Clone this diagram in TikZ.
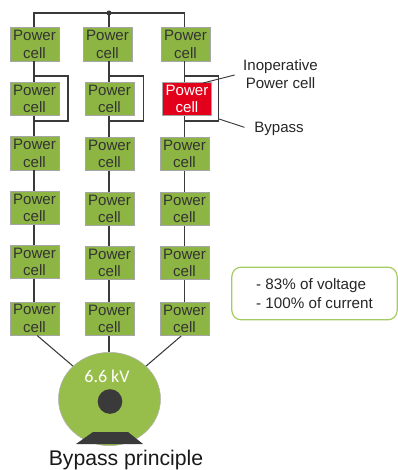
\documentclass[tikz,border=0pt]{standalone}
\usepackage{fontspec}
\setmainfont{Liberation Sans}
\newfontfamily\kvfont{Carlito}
\usepackage{xcolor}
\usetikzlibrary{arrows.meta,positioning,shapes.geometric}
\definecolor{cellgreen}{HTML}{8DB544}
\definecolor{motorgreen}{HTML}{97BE4B}
\definecolor{cellred}{HTML}{E2001A}
\definecolor{wiregray}{HTML}{3A3A3A}
\definecolor{boxgreen}{HTML}{A5CC62}

\begin{document}
\begin{tikzpicture}[
  x=0.75pt, y=-0.75pt,
  cell/.style={rectangle, draw=gray!70, line width=0.5pt, fill=cellgreen, minimum width=36.5pt, minimum height=25pt, inner sep=0pt, align=center, font=\fontsize{11.3}{13.2}\selectfont, text=black!80},
  badcell/.style={cell, fill=cellred, text=white},
  wire/.style={draw=wiregray, line width=0.8pt},
  bypass/.style={draw=wiregray, line width=1.3pt},
  leader/.style={draw=wiregray, line width=0.7pt},
  note/.style={align=center, font=\fontsize{11.3}{13.5}\selectfont, text=black!85}
]
  \useasboundingbox (0,0) rectangle (398,470);

  % motor
  \node[ellipse, draw=gray!60, line width=0.4pt, fill=motorgreen, minimum width=76.5pt, minimum height=70pt, inner sep=0pt] (motor) at (109.5,399) {};
  \node[circle, fill=wiregray, minimum size=18.5pt, inner sep=0pt] (shaft) at (110,401.5) {};
  \fill[wiregray] (76,444) -- (93,432) -- (128,432) -- (143,444) -- cycle;
  \node[text=white, font=\kvfont\fontsize{13.5}{15}\selectfont] (volt) at (107,376) {6.6 kV};

  % feed and wire columns
  \coordinate (topa) at (34,13);
  \coordinate (topb) at (109,13);
  \coordinate (topc) at (184.5,13);

  % bypass loops
  \foreach \col/\xpos/\xout in {a/34/68,b/109/143.5,c/184.5/218.5} {
    \coordinate (\col ul) at (\xpos,76);
    \coordinate (\col ur) at (\xout,76);
    \coordinate (\col lr) at (\xout,121);
    \coordinate (\col ll) at (\xpos,121);
    \draw[bypass] (\col ul) -- (\col ur) -- (\col lr) -- (\col ll);
  }

  % cells, column by column
  \node[cell] (a1) at (34.5,44.5) {Power\\cell};
  \node[cell] (a2) at (34.5,99) {Power\\cell};
  \node[cell] (a3) at (34.5,153.5) {Power\\cell};
  \node[cell] (a4) at (34.5,208) {Power\\cell};
  \node[cell] (a5) at (34.5,262) {Power\\cell};
  \node[cell] (a6) at (34.5,318.5) {Power\\cell};

  \node[cell] (b1) at (107.5,44.5) {Power\\cell};
  \node[cell] (b2) at (109.5,99) {Power\\cell};
  \node[cell] (b3) at (109.5,154) {Power\\cell};
  \node[cell] (b4) at (109.5,209) {Power\\cell};
  \node[cell] (b5) at (109.5,263) {Power\\cell};
  \node[cell] (b6) at (109.5,319) {Power\\cell};

  \node[cell] (c1) at (185.5,44.5) {Power\\cell};
  \node[badcell] (c2) at (187,99) {Power\\cell};
  \node[cell] (c3) at (184.5,154) {Power\\cell};
  \node[cell] (c4) at (184.5,209) {Power\\cell};
  \node[cell] (c5) at (184.5,263) {Power\\cell};
  \node[cell] (c6) at (184.5,319) {Power\\cell};

  % feed
  \draw[wire] (a1.north -| topa) -- (topa) -- (topc) -- (c1.north -| topc);
  \draw[wire] (topb) -- (b1.north -| topb);
  \fill[wiregray] (topb) circle (2.5);

  % strings
  \foreach \col/\topname in {a/topa,b/topb,c/topc} {
    \foreach \upper/\lower in {1/2,2/3,3/4,4/5,5/6} {
      \draw[wire] (\col\upper.south -| \topname) -- (\col\lower.north -| \topname);
    }
  }

  % to the motor
  \draw[wire] ([xshift=2pt]a6.south) -- (motor.138);
  \draw[wire] (b6.south -| topb) -- (motor.north -| topb);
  \draw[wire] ([xshift=-2.5pt]c6.south) -- (motor.42);

  % notes
  \node[note] (inop) at (280.5,74) {Inoperative\\Power cell};
  \node[note] (byp) at (279,129) {Bypass};
  \coordinate (inopend) at (203,83);
  \coordinate (bypend) at (219,119);
  \draw[leader, shorten >=3pt] (inopend) -- (inop.west);
  \draw[leader, shorten >=4pt] (bypend) -- (byp.west);

  \node[rectangle, rounded corners=7pt, draw=boxgreen, line width=0.9pt, minimum width=124pt, minimum height=39.5pt, align=left, font=\fontsize{11.4}{14.2}\selectfont, text=black!85] (result) at (314.5,293.5) {- 83\% of voltage\\- 100\% of current};

  \node[font=\fontsize{15.9}{18}\selectfont, text=black!90] (title) at (126,460) {Bypass principle};
\end{tikzpicture}
\end{document}
